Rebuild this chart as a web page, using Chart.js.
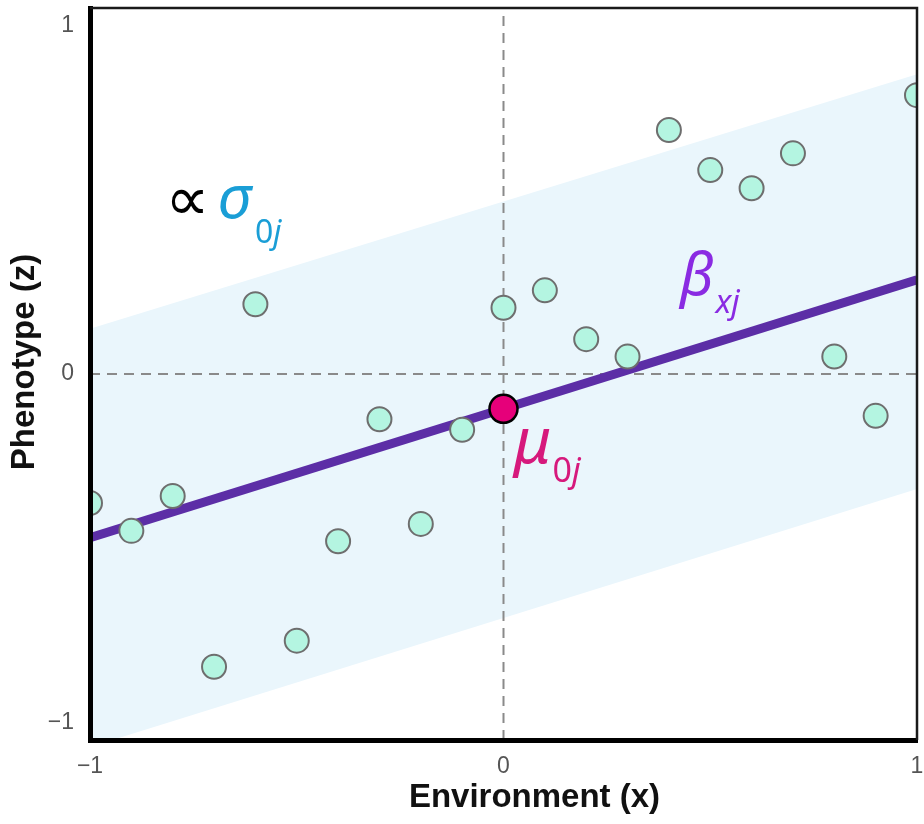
<!DOCTYPE html>
<html>
<head>
<meta charset="utf-8">
<script src="https://cdn.jsdelivr.net/npm/chart.js@4"></script>
<style>
  html, body { margin: 0; padding: 0; background: #fff; }
  #wrap { width: 924px; height: 824px; }
</style>
</head>
<body>
<div id="wrap"><canvas id="chart" width="924" height="824"></canvas></div>
<script>
/* data */
var envX   = [-1, -0.9, -0.8, -0.7, -0.6, -0.5, -0.4, -0.3, -0.2, -0.1, 0, 0.1, 0.2, 0.3, 0.4, 0.5, 0.6, 0.7, 0.8, 0.9, 1];
var phenoZ = [-0.37, -0.45, -0.35, -0.84, 0.2, -0.765, -0.48, -0.13, -0.43, -0.16, 0.19, 0.24, 0.1, 0.05, 0.7, 0.585, 0.533, 0.633, 0.05, -0.12, 0.8];
var meanX = [0];
var meanZ = [-0.1];
var slopeX = [-1, 1];
var slopeZ = [-0.47, 0.27];
var bandX = [-1, 1];
var bandUpper = [0.13, 0.86];
var bandLower = [-1.07, -0.33];
var xRange = [-1, 1];
var yRange = [-1.05, 1.05];
var xTicks = [-1, 0, 1];
var yTicks = [-1, 0, 1];
var xTitle = 'Environment (x)';
var yTitle = 'Phenotype (z)';

var C_BAND = '#eaf6fc';
var C_LINE = '#5c2ea6';
var C_DOT  = '#b4f5e1';
var C_MEAN = '#e6007a';
var C_SIG  = '#1a9ed6';
var C_MU   = '#d6197c';
var C_BETA = '#8a2be2';

function pts(xs, ys) {
    return xs.map(function (x, i) { return { x: x, y: ys[i] }; });
}

function tickText(v) {
    return v < 0 ? '\u2212' + Math.abs(v) : String(v);
}

/* label groups: anchor in data units, parts drawn left to right */
var notes = [
    { x: -0.818, y: 0.441, parts: [
        { t: '\u221d', font: '62px "DejaVu Sans"', color: '#000', dy: 0, gap: 8 },
        { t: '\u03c3', font: 'italic 60px "Noto Sans"', color: C_SIG, dy: -2, gap: 4 },
        { t: '0', font: '32px "Noto Sans"', color: C_SIG, dy: 23, gap: 0 },
        { t: 'j', font: 'italic 32px "Noto Sans"', color: C_SIG, dy: 23, gap: 0 }
    ] },
    { x: 0.025, y: -0.241, parts: [
        { t: '\u03bc', font: 'italic 64px "Noto Sans"', color: C_MU, dy: 5, gap: 1 },
        { t: '0', font: '34px "Noto Sans"', color: C_MU, dy: 24, gap: 0 },
        { t: 'j', font: 'italic 34px "Noto Sans"', color: C_MU, dy: 24, gap: 0 }
    ] },
    { x: 0.427, y: 0.232, parts: [
        { t: '\u03b2', font: 'italic 58px "Noto Sans"', color: C_BETA, dy: 2, gap: 2 },
        { t: 'xj', font: 'italic 33px "Noto Sans"', color: C_BETA, dy: 20, gap: 0 }
    ] }
];

var notesPlugin = {
    id: 'notes',
    afterDatasetsDraw: function (chart) {
        var ctx = chart.ctx;
        var xs = chart.scales.x, ys = chart.scales.y;
        ctx.save();
        ctx.textBaseline = 'alphabetic';
        ctx.textAlign = 'left';
        notes.forEach(function (n) {
            var px = xs.getPixelForValue(n.x);
            var py = ys.getPixelForValue(n.y);
            n.parts.forEach(function (p) {
                ctx.font = p.font;
                ctx.fillStyle = p.color;
                ctx.fillText(p.t, px, py + p.dy);
                px += ctx.measureText(p.t).width + p.gap;
            });
        });
        ctx.restore();
    }
};

/* thin top / right frame + axis titles (placed like the source figure) */
var framePlugin = {
    id: 'frame',
    afterDraw: function (chart) {
        var a = chart.chartArea, ctx = chart.ctx;
        ctx.save();
        ctx.strokeStyle = '#1a1a1a';
        ctx.lineWidth = 2.5;
        ctx.beginPath();
        ctx.moveTo(a.left, a.top);
        ctx.lineTo(a.right, a.top);
        ctx.lineTo(a.right, a.bottom);
        ctx.stroke();

        ctx.fillStyle = '#111';
        ctx.textAlign = 'center';
        ctx.textBaseline = 'middle';
        ctx.font = 'bold 33px "Liberation Sans", Arial';
        ctx.fillText(xTitle, (a.left + a.right) / 2 + 31, 798);
        ctx.translate(25, (a.top + a.bottom) / 2 - 12);
        ctx.rotate(-Math.PI / 2);
        ctx.fillText(yTitle, 0, 0);
        ctx.restore();
    }
};

var zeroDash = { borderColor: '#8a8a8a', borderWidth: 2, borderDash: [10, 7], pointRadius: 0, fill: false, showLine: true };

new Chart(document.getElementById('chart'), {
    type: 'scatter',
    data: {
        datasets: [
            { data: pts(bandX, bandUpper), order: 10, showLine: true, borderWidth: 0, pointRadius: 0, borderColor: 'transparent', fill: false, clip: 0 },
            { data: pts(bandX, bandLower), order: 9, showLine: true, borderWidth: 0, pointRadius: 0, borderColor: 'transparent', backgroundColor: C_BAND, fill: '-1', clip: 0 },
            Object.assign({ data: pts([0, 0], yRange), order: 8 }, zeroDash),
            Object.assign({ data: pts(xRange, [0, 0]), order: 7 }, zeroDash),
            { data: pts(slopeX, slopeZ), order: 6, showLine: true, borderColor: C_LINE, borderWidth: 9, pointRadius: 0, fill: false, clip: 0 },
            { data: pts(envX, phenoZ), order: 5, pointRadius: 12, pointBackgroundColor: C_DOT, pointBorderColor: '#6e6e6e', pointBorderWidth: 2, clip: 0 },
            { data: pts(meanX, meanZ), order: 4, pointRadius: 14, pointBackgroundColor: C_MEAN, pointBorderColor: '#000', pointBorderWidth: 2.5, clip: 0 }
        ]
    },
    options: {
        responsive: false,
        animation: false,
        events: [],
        layout: { autoPadding: false, padding: { top: 8, right: 7, left: 0, bottom: 0 } },
        plugins: { legend: { display: false }, tooltip: { enabled: false } },
        scales: {
            x: {
                type: 'linear', min: xRange[0], max: xRange[1],
                afterBuildTicks: function (s) { s.ticks = xTicks.map(function (v) { return { value: v }; }); },
                afterFit: function (s) { s.height = 84; s.paddingLeft = 0; s.paddingRight = 0; },
                grid: { display: false },
                border: { display: true, color: '#000', width: 5, z: 1 },
                ticks: { color: '#555', font: { family: 'Liberation Sans, Arial', size: 23 }, padding: 5, maxRotation: 0, callback: tickText },
                title: { display: false }
            },
            y: {
                type: 'linear', min: yRange[0], max: yRange[1],
                afterBuildTicks: function (s) { s.ticks = yTicks.map(function (v) { return { value: v }; }); },
                afterFit: function (s) { s.width = 90; s.paddingTop = 0; s.paddingBottom = 0; },
                grid: { display: false },
                border: { display: true, color: '#000', width: 5, z: 1 },
                ticks: { color: '#555', font: { family: 'Liberation Sans, Arial', size: 23 }, padding: 8, callback: tickText },
                title: { display: false }
            }
        }
    },
    plugins: [notesPlugin, framePlugin]
});
</script>
</body>
</html>
